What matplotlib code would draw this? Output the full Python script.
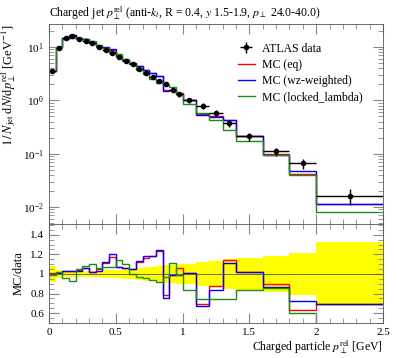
import matplotlib
matplotlib.use('Agg')
import matplotlib.pyplot as plt
import numpy as np
from matplotlib.ticker import MultipleLocator, FixedLocator, NullFormatter, FixedFormatter

# bin edges and values
edges = [0.0, 0.05, 0.1, 0.15, 0.2, 0.25, 0.3, 0.35, 0.4, 0.45, 0.5, 0.55, 0.6, 0.65,
         0.7, 0.75, 0.8, 0.85, 0.9, 0.95, 1.0, 1.1, 1.2, 1.3, 1.4, 1.6, 1.8, 2.0, 2.5]
data = [3.55, 9.7, 14.6, 16.1, 14.1, 13.1, 11.7, 10.1, 8.8, 7.6, 6.4, 5.5, 4.7, 3.87,
        3.2, 2.7, 2.33, 2.0, 1.58, 1.30, 1.01, 0.79, 0.59, 0.38, 0.21, 0.11, 0.066, 0.0162]
data_relerr = [0.08, 0.04, 0.03, 0.03, 0.03, 0.03, 0.035, 0.035, 0.04, 0.04, 0.045, 0.05,
               0.05, 0.06, 0.07, 0.075, 0.08, 0.09, 0.095, 0.10, 0.10, 0.12, 0.13, 0.15,
               0.16, 0.18, 0.21, 0.33]
ratio_eq = [1.01, 1.01, 1.03, 1.03, 1.04, 1.06, 1.02, 1.05, 1.11, 1.17, 1.07, 1.06, 1.05,
            1.12, 1.16, 1.18, 1.23, 0.79, 0.99, 1.06, 1.01, 0.69, 0.88, 1.14, 1.02, 0.90,
            0.63, 0.69]
ratio_wz = [1.00, 1.01, 1.03, 1.03, 1.03, 1.06, 1.02, 1.03, 1.12, 1.20, 1.07, 1.06, 1.05,
            1.13, 1.18, 1.18, 1.24, 0.76, 0.99, 0.99, 1.01, 0.67, 0.84, 1.11, 1.02, 0.87,
            0.72, 0.69]
ratio_ll = [0.99, 1.02, 0.96, 0.93, 1.05, 1.08, 1.10, 1.06, 1.07, 1.07, 1.14, 1.10, 1.00,
            0.97, 0.96, 0.94, 0.92, 0.97, 1.11, 0.99, 0.84, 0.74, 0.74, 0.74, 0.84, 0.86,
            0.60, 0.49]

labels = ['MC (eq)', 'MC (wz-weighted)', 'MC (locked_lambda)']
colors = ['red', 'blue', '#1a8c1a']
xticks = [0, 0.5, 1, 1.5, 2, 2.5]
xticklabels = ['0', '0.5', '1', '1.5', '2', '2.5']
rticks = [0.6, 0.8, 1.0, 1.2, 1.4]
rticklabels = ['0.6', '0.8', '1', '1.2', '1.4']

edges = np.array(edges)
data = np.array(data)
relerr = np.array(data_relerr)
centers = 0.5 * (edges[1:] + edges[:-1])
halfw = 0.5 * (edges[1:] - edges[:-1])
ratios = [np.array(ratio_eq), np.array(ratio_wz), np.array(ratio_ll)]

plt.rcParams['font.family'] = ['Liberation Serif', 'DejaVu Serif']
plt.rcParams['mathtext.fontset'] = 'stix'

W, H = 397, 358
fig = plt.figure(figsize=(W / 100, H / 100), dpi=100)
ax = fig.add_axes([49 / W, (H - 224) / H, 334 / W, 200 / H])
rax = fig.add_axes([49 / W, (H - 323) / H, 334 / W, 99 / H])

def step(a, vals, **kw):
    a.stairs(vals, edges, baseline=None, **kw)

# main panel
for r, c, lab in zip(ratios, colors, labels):
    step(ax, data * r, color=c, lw=1.0, label=lab)
ax.errorbar(centers, data, xerr=halfw, yerr=data * relerr, fmt='o', color='black',
            ms=3, lw=1.0, capsize=0, label='ATLAS data')
ax.set_yscale('log')
ax.set_xlim(0, 2.5)
ax.set_ylim(0.0048, 27)
ax.set_ylabel(r'$1\,/\,N_{\rm jet}\;\mathrm{d}N/\mathrm{d}p_\perp^{\rm rel}$ [GeV$^{-1}$]',
              loc='top', fontsize=9)
ax.set_title(r'Charged jet $p_\perp^{\rm rel}$ (anti-$k_t$, R = 0.4, $y$ 1.5-1.9, $p_\perp$ 24.0-40.0)',
             fontsize=8.5, loc='left', pad=5)
h, l = ax.get_legend_handles_labels()
order = [3, 0, 1, 2]
ax.legend([h[i] for i in order], [l[i] for i in order], loc='upper right',
          bbox_to_anchor=(0.97, 0.96), frameon=False, fontsize=8.5, handlelength=1.4,
          handletextpad=0.6, labelspacing=0.35)
ax.xaxis.set_major_locator(FixedLocator(xticks))
ax.xaxis.set_minor_locator(MultipleLocator(0.1))
ax.xaxis.set_major_formatter(NullFormatter())

# ratio panel
band_lo = np.append(1 - relerr, 1 - relerr[-1])
band_hi = np.append(1 + relerr, 1 + relerr[-1])
rax.fill_between(edges, band_lo, band_hi, step='post', color='yellow', lw=0)
rax.axhline(1.0, color='#555555', lw=0.6)
for r, c in zip(ratios, colors):
    step(rax, r, color=c, lw=1.0)
rax.set_xlim(0, 2.5)
rax.set_ylim(0.5, 1.51)
rax.set_ylabel('MC/data', fontsize=9)
rax.set_xlabel(r'Charged particle $p_\perp^{\rm rel}$ [GeV]', loc='right', fontsize=8.5,
               labelpad=1)
rax.xaxis.set_major_locator(FixedLocator(xticks))
rax.xaxis.set_major_formatter(FixedFormatter(xticklabels))
rax.xaxis.set_minor_locator(MultipleLocator(0.1))
rax.yaxis.set_major_locator(FixedLocator(rticks))
rax.yaxis.set_major_formatter(FixedFormatter(rticklabels))
rax.yaxis.set_minor_locator(MultipleLocator(0.05))

for a in (ax, rax):
    a.tick_params(which='both', direction='in', top=True, right=True, labelsize=8,
                  color='#888888')
    a.tick_params(which='major', length=7)
    a.tick_params(which='minor', length=3.5)
    for s in a.spines.values():
        s.set_linewidth(0.6)
        s.set_color('#555555')

fig.savefig('out.png', dpi=100)
